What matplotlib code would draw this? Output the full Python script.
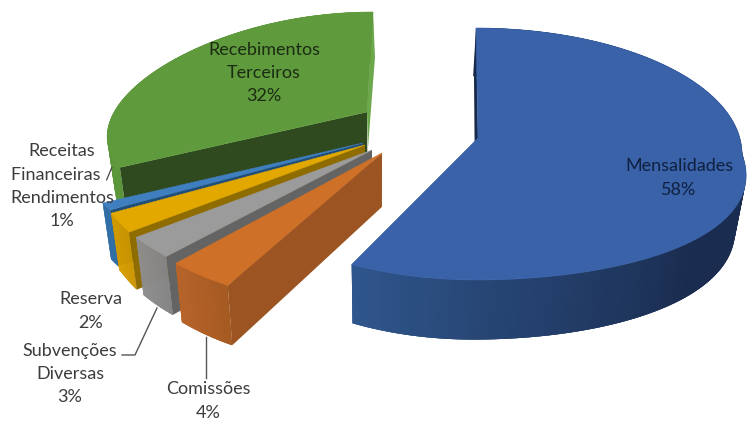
#!/usr/bin/env python3
"""Exploded 3D-look pie of revenue shares, drawn by hand since matplotlib has no 3D pie."""

import numpy as np
import matplotlib
matplotlib.use("Agg")
import matplotlib.pyplot as plt
from matplotlib.colors import to_rgb
from matplotlib.patches import Polygon

# slices, clockwise from 12 o'clock
LABELS = ["Mensalidades", "Comissões", "Subvenções\nDiversas", "Reserva",
          "Receitas\nFinanceiras /\nRendimentos", "Recebimentos\nTerceiros"]
SHARES = [58, 4, 3, 2, 1, 32]

# look of each slice: top face, radial wall, outer wall light -> dark
TOP_COLORS = ["#3a62a8", "#cf7028", "#9b9b9b", "#e2a800", "#3f7fbf", "#5f9a3d"]
RADIAL_COLORS = ["#16294a", "#9c5522", "#646464", "#8f6c00", "#1f4e79", "#2f4a1e"]
WALL_LIGHT = ["#30588f", "#b8642a", "#8f8f8f", "#d9a000", "#2e6ea6", "#649e42"]
WALL_DARK = ["#1a2c4f", "#a55a22", "#858585", "#cc9600", "#2e6ea6", "#5c963b"]

# exploded offsets in pixels: apex x, apex y, ellipse cx, cy, a, b, perspective k
APEX = [(478, 138), (382, 153), (372, 150), (365, 145), (363, 143), (367, 112)]
ELLIPSE = [(476, 154, 266, 126, 0.18), (351, 154, 256, 150, 0.0), (332, 158, 242, 135, 0.0),
           (346, 127, 268, 179, 0.0), (338, 152, 260, 120, 0.0), (373, 121, 263, 109, 0.15)]
TEXT_POS = [(679, 178), (208, 401), (70, 374), (91, 311), (62, 186), (264, 73)]
TEXT_COLORS = ["#0f2040", "#3c3c3c", "#3c3c3c", "#3c3c3c", "#3c3c3c", "#1b2c12"]

VANISH_X = 380


def rim(i, theta):
    cx, cy, a, b, k = ELLIPSE[i]
    if i == 0:
        # big slice bulges towards the viewer on its lower right only
        factor = np.where(np.sin(theta) >= 0, 1 + k * np.maximum(-np.cos(theta), 0), 0.97)
    else:
        factor = 1 - k * np.cos(theta)
    x = cx + a * np.sin(theta) * factor
    y = cy - b * np.cos(theta)
    return x, y


def drop(x, y):
    # push a top-face point down to the pie's bottom face
    return x + (VANISH_X - x) * 0.03, y + 47 + 0.045 * y


def mix(c1, c2, t):
    c1, c2 = np.array(to_rgb(c1)), np.array(to_rgb(c2))
    return tuple(c1 + (c2 - c1) * t)


def i_order(i):
    # back to front: green, small blue, gold, grey, orange, big blue
    return {5: 1, 4: 2, 3: 3, 2: 4, 1: 5, 0: 6}[i]


def draw_slice(ax, i, start, end):
    n = 160
    th = np.linspace(start, end, n)
    xs, ys = rim(i, th)
    ax_, ay_ = APEX[i]
    bx, by = drop(xs, ys)

    # outer wall as thin overlapping strips so the shading runs along the arc
    strips = range(n - 1) if i != 0 else range(n - 2, -1, -1)
    for j in strips:
        t = j / (n - 2)
        if i == 0:
            # dark round the front, lightens only near the cut on the left
            col = mix(WALL_DARK[i], WALL_LIGHT[i], max((t - 0.62) / 0.38, 0))
        else:
            col = mix(WALL_DARK[i], WALL_LIGHT[i], t)
        k = min(j + 3, n - 1)
        quad = [(xs[j], ys[j]), (xs[k], ys[k]), (bx[k], by[k]), (bx[j], by[j])]
        ax.add_patch(Polygon(quad, fc=col, ec="none", zorder=i_order(i)))

    # radial walls
    abx, aby = drop(ax_, ay_)
    if i == 5:
        # far cut of the green slice, seen from inside
        far = [(xs[-1], ys[-1]), (xs[-1] + 2, ys[-1] + 45), (ax_ + 1, ay_ + 36), (ax_, ay_)]
        ax.add_patch(Polygon(far, fc="#6ea84c", ec="none", zorder=i_order(i)))
    if i == 0:
        cut = [(xs[0], ys[0]), (xs[0] - 2, ys[0] + 50), (abx, aby), (ax_, ay_)]
        ax.add_patch(Polygon(cut, fc=RADIAL_COLORS[i], ec="none", zorder=i_order(i) + 0.1))
    else:
        near = [(xs[0], ys[0]), (ax_, ay_), (abx, aby), (bx[0], by[0])]
        ax.add_patch(Polygon(near, fc=RADIAL_COLORS[i], ec="none", zorder=i_order(i) + 0.1))

    top = np.column_stack([np.r_[ax_, xs], np.r_[ay_, ys]])
    ax.add_patch(Polygon(top, fc=TOP_COLORS[i], ec=TOP_COLORS[i], lw=0.4, zorder=i_order(i) + 0.2))


def main():
    fig = plt.figure(figsize=(7.47, 4.21), dpi=100)
    ax = fig.add_axes([0, 0, 1, 1])
    ax.set_xlim(0, 747)
    ax.set_ylim(421, 0)
    ax.axis("off")

    edges = np.radians(np.cumsum([0] + SHARES) * 3.6)
    for i in range(len(SHARES)):
        draw_slice(ax, i, edges[i], edges[i + 1])

    # leader lines
    ax.plot([206, 206], [337, 378], color="#555555", lw=1, zorder=8)
    ax.plot([157, 135, 122], [308, 355, 355], color="#555555", lw=1, zorder=8)

    for label, share, (x, y), col in zip(LABELS, SHARES, TEXT_POS, TEXT_COLORS):
        ax.text(x, y, f"{label}\n{share}%", ha="center", va="center", color=col,
                family=["Lato", "DejaVu Sans"], fontsize=13, linespacing=1.56, zorder=9)

    fig.savefig("out.png", dpi=100)
    plt.close(fig)


if __name__ == "__main__":
    main()
